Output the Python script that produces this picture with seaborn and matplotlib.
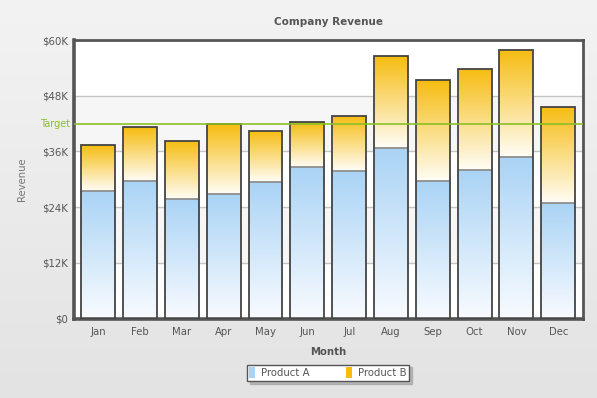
import numpy as np
import pandas as pd
import matplotlib
matplotlib.use("Agg")
import matplotlib.pyplot as plt
import seaborn as sns
from matplotlib.colors import LinearSegmentedColormap
from matplotlib.patches import Patch

# ---- data (thousands of dollars) ----
months = ["Jan", "Feb", "Mar", "Apr", "May", "Jun", "Jul", "Aug", "Sep", "Oct", "Nov", "Dec"]
product_a = [27.4, 29.7, 25.7, 26.75, 29.5, 32.6, 31.7, 36.7, 29.55, 31.9, 34.7, 24.8]
product_b = [9.9, 11.55, 12.5, 15.05, 11.0, 9.65, 11.85, 19.8, 21.75, 21.8, 23.1, 20.7]
target = 42
y_ticks = [0, 12, 24, 36, 48, 60]
y_tick_labels = ["$0", "$12K", "$24K", "$36K", "$48K", "$60K"]
series_names = ["Product A", "Product B"]

df = pd.DataFrame({"Month": months, "A": product_a, "B": product_b})
df["Total"] = df["A"] + df["B"]

sns.set_theme(style="white")
plt.rcParams["font.family"] = ["DejaVu Sans"]

TXT = "#555555"
A_TOP, A_BOT = "#A9D3F5", "#F8FBFF"
B_TOP, B_BOT = "#F6BC10", "#FFFDF6"
EDGE = "#444444"

fig = plt.figure(figsize=(5.97, 3.98), dpi=100)

# background gradient
bg = fig.add_axes([0, 0, 1, 1], zorder=-10)
bg_cmap = LinearSegmentedColormap.from_list("bg", ["#e3e3e3", "#f3f3f3"])
bg.imshow(np.linspace(0, 1, 256).reshape(-1, 1), cmap=bg_cmap, aspect="auto",
          origin="lower", extent=(0, 1, 0, 1))
bg.set_axis_off()

ax = fig.add_axes([74 / 597, 1 - 318.5 / 398, (582.5 - 74) / 597, (318.5 - 40) / 398])
ax.set_facecolor("white")


def grad_fill(patch, top, bottom, y0, y1, z):
    x0 = patch.get_x()
    w = patch.get_width()
    cmap = LinearSegmentedColormap.from_list("g", [bottom, top])
    im = ax.imshow(np.linspace(0, 1, 256).reshape(-1, 1), cmap=cmap, aspect="auto",
                   origin="lower", extent=(x0, x0 + w, y0, y1), zorder=z)
    im.set_clip_path(patch)


# stacked bars: totals (Product B on top) then Product A
sns.barplot(data=df, x="Month", y="Total", color=B_TOP, width=0.81, ax=ax,
            edgecolor=EDGE, linewidth=1.3, zorder=1.5)
b_patches = list(ax.patches)
sns.barplot(data=df, x="Month", y="A", color=A_TOP, width=0.81, ax=ax,
            edgecolor="none", linewidth=0, zorder=2.5)
a_patches = list(ax.patches)[len(b_patches):]

for p, a, tot in zip(b_patches, df["A"], df["Total"]):
    p.set_facecolor("none")
    grad_fill(p, B_TOP, B_BOT, a, tot, 1.2)
for p, a in zip(a_patches, df["A"]):
    p.set_facecolor("none")
    grad_fill(p, A_TOP, A_BOT, 0, a, 2.2)
    # lighter grey divider between the two stacked segments
    ax.hlines(a, p.get_x(), p.get_x() + p.get_width(), color="#8f8f8f", lw=1.3, zorder=2.4)

for p in b_patches:
    p.set_zorder(2.6)

# background bands and grid
for lo, hi in [(12, 24), (36, 48)]:
    ax.axhspan(lo, hi, color="#f6f6f6", zorder=0.2, lw=0)
for t in y_ticks[1:-1]:
    ax.axhline(t, color="#c4c4c4", lw=1, zorder=0.5)

# target line
ax.axhline(target, color="#8CBF26", lw=1.2, zorder=3)
ax.text(-0.008, target, "Target", transform=ax.get_yaxis_transform(), ha="right",
        va="center", color="#8CBF26", fontsize=7)

ax.set_xlim(-0.58, 11.58)
ax.set_ylim(0, 60)
ax.set_yticks(y_ticks)
ax.set_yticklabels(y_tick_labels)
ax.tick_params(axis="both", length=0, labelsize=7.3, labelcolor=TXT, pad=4)
ax.tick_params(axis="x", pad=6)

for s in ax.spines.values():
    s.set_color("#555555")
    s.set_linewidth(2)
ax.spines["left"].set_linewidth(2.6)
ax.spines["bottom"].set_linewidth(2.6)

ax.set_xlabel("Month", fontsize=7.3, fontweight="bold", color=TXT, labelpad=7)
ax.set_ylabel("Revenue", fontsize=7.3, color="#777777", labelpad=11)
ax.set_title("Company Revenue", fontsize=7.5, fontweight="bold", color=TXT, pad=11)

handles = [Patch(facecolor=A_TOP, edgecolor="none"), Patch(facecolor=B_TOP, edgecolor="none")]
leg = fig.legend(handles, series_names, loc="center", bbox_to_anchor=(0.549, 0.0635),
                 ncol=2, fontsize=7.3, frameon=True, fancybox=False,
                 shadow={"ox": 2, "oy": -2, "color": "#9a9a9a", "alpha": 0.6},
                 handlelength=0.55, handleheight=1.3, handletextpad=0.6,
                 columnspacing=3.6, borderpad=0.25, borderaxespad=0, labelcolor=TXT)
leg.get_frame().set_edgecolor("#555555")
leg.get_frame().set_linewidth(1)
leg.get_frame().set_facecolor("white")

fig.savefig("out.png", dpi=100)
